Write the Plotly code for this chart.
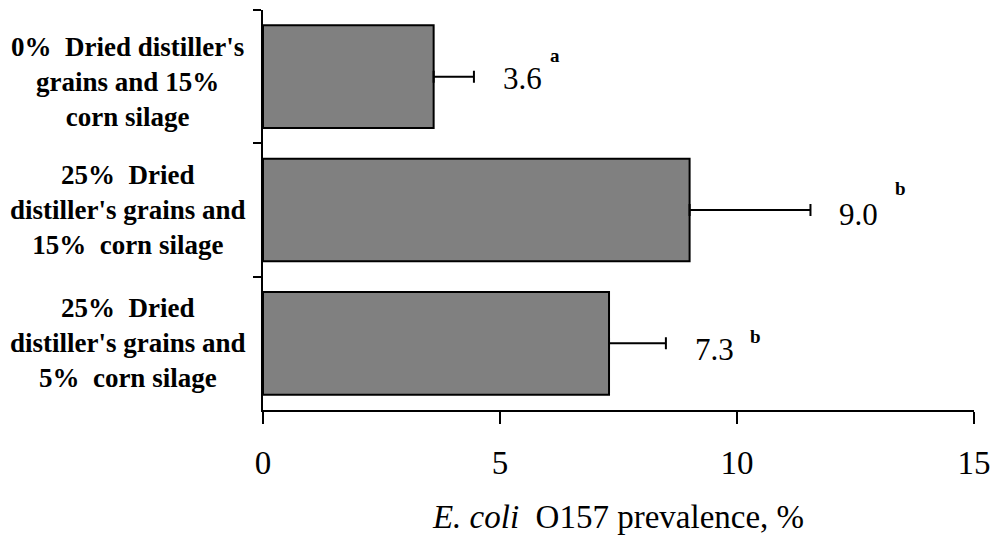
import plotly.graph_objects as go

# ---- data ----
categories = [
    "0%  Dried distiller's<br>grains and 15%<br>corn silage",
    "25%  Dried<br>distiller's grains and<br>15%  corn silage",
    "25%  Dried<br>distiller's grains and<br>5%  corn silage",
]
values = [3.6, 9.0, 7.3]
errors = [0.85, 2.55, 1.2]
value_labels = ["3.6", "9.0", "7.3"]
letters = ["a", "b", "b"]
x_ticks = [0, 5, 10, 15]

SERIF = "Liberation Serif"

fig = go.Figure()
fig.add_trace(go.Bar(
    y=categories,
    x=values,
    orientation="h",
    marker=dict(color="#808080", line=dict(color="black", width=2)),
    width=0.77,
    error_x=dict(type="data", symmetric=False, array=errors,
                 arrayminus=[0] * len(errors),
                 color="black", thickness=2, width=6),
    showlegend=False,
    hoverinfo="skip",
))

annotations = []
# category labels (centred, multi-line)
cat_yshift = [-5, 0, 0]
for i, c in enumerate(categories):
    annotations.append(dict(
        x=-0.19, xref="paper", y=c, yref="y",
        text="<b>" + c.replace("<br>", "</b><br><b>") + "</b>",
        showarrow=False,
        xanchor="center", yanchor="middle", align="center",
        font=dict(family=SERIF, size=27, color="black"),
        yshift=cat_yshift[i],
    ))
# value labels and significance letters
sup_shift = [(74, 21), (83, 22), (82, 7)]
lab_yshift = [-2, -4, -6]
for i, (c, v, e, lab, let) in enumerate(zip(categories, values, errors, value_labels, letters)):
    annotations.append(dict(
        x=v + e, xref="x", y=c, yref="y", text=lab, showarrow=False,
        xanchor="left", yanchor="middle", xshift=27, yshift=lab_yshift[i],
        font=dict(family=SERIF, size=31, color="black"),
    ))
    annotations.append(dict(
        x=v + e, xref="x", y=c, yref="y", text="<b>" + let + "</b>", showarrow=False,
        xanchor="left", yanchor="middle", xshift=sup_shift[i][0], yshift=sup_shift[i][1],
        font=dict(family=SERIF, size=19, color="black"),
    ))

fig.update_layout(
    width=990, height=539,
    margin=dict(l=263, r=16, t=10, b=129),
    paper_bgcolor="white", plot_bgcolor="white",
    bargap=0.23,
    annotations=annotations,
    font=dict(family=SERIF, color="black"),
    xaxis=dict(
        range=[0, 15], tickvals=x_ticks, ticktext=[str(t) for t in x_ticks],
        showline=True, linecolor="black", linewidth=1.5,
        ticks="outside", ticklen=12, tickwidth=1.5, tickcolor="black",
        ticklabelstandoff=11, ticklabeloverflow="allow",
        showgrid=False, zeroline=False, automargin=False,
        tickfont=dict(family=SERIF, size=33, color="black"),
        title=dict(text="<i>E. coli</i>  O157 prevalence, %",
                   font=dict(family=SERIF, size=33, color="black"), standoff=25),
        fixedrange=True,
    ),
    yaxis=dict(
        type="category", autorange="reversed",
        showline=True, linecolor="black", linewidth=1.5,
        ticks="outside", tickson="boundaries", ticklen=8, tickwidth=1.5, tickcolor="black",
        showticklabels=False, showgrid=False, zeroline=False, automargin=False,
        fixedrange=True,
    ),
)

fig.write_html("out.html", config={"displayModeBar": False},
               post_script="document.body.style.margin='0';document.body.style.overflow='hidden';")
